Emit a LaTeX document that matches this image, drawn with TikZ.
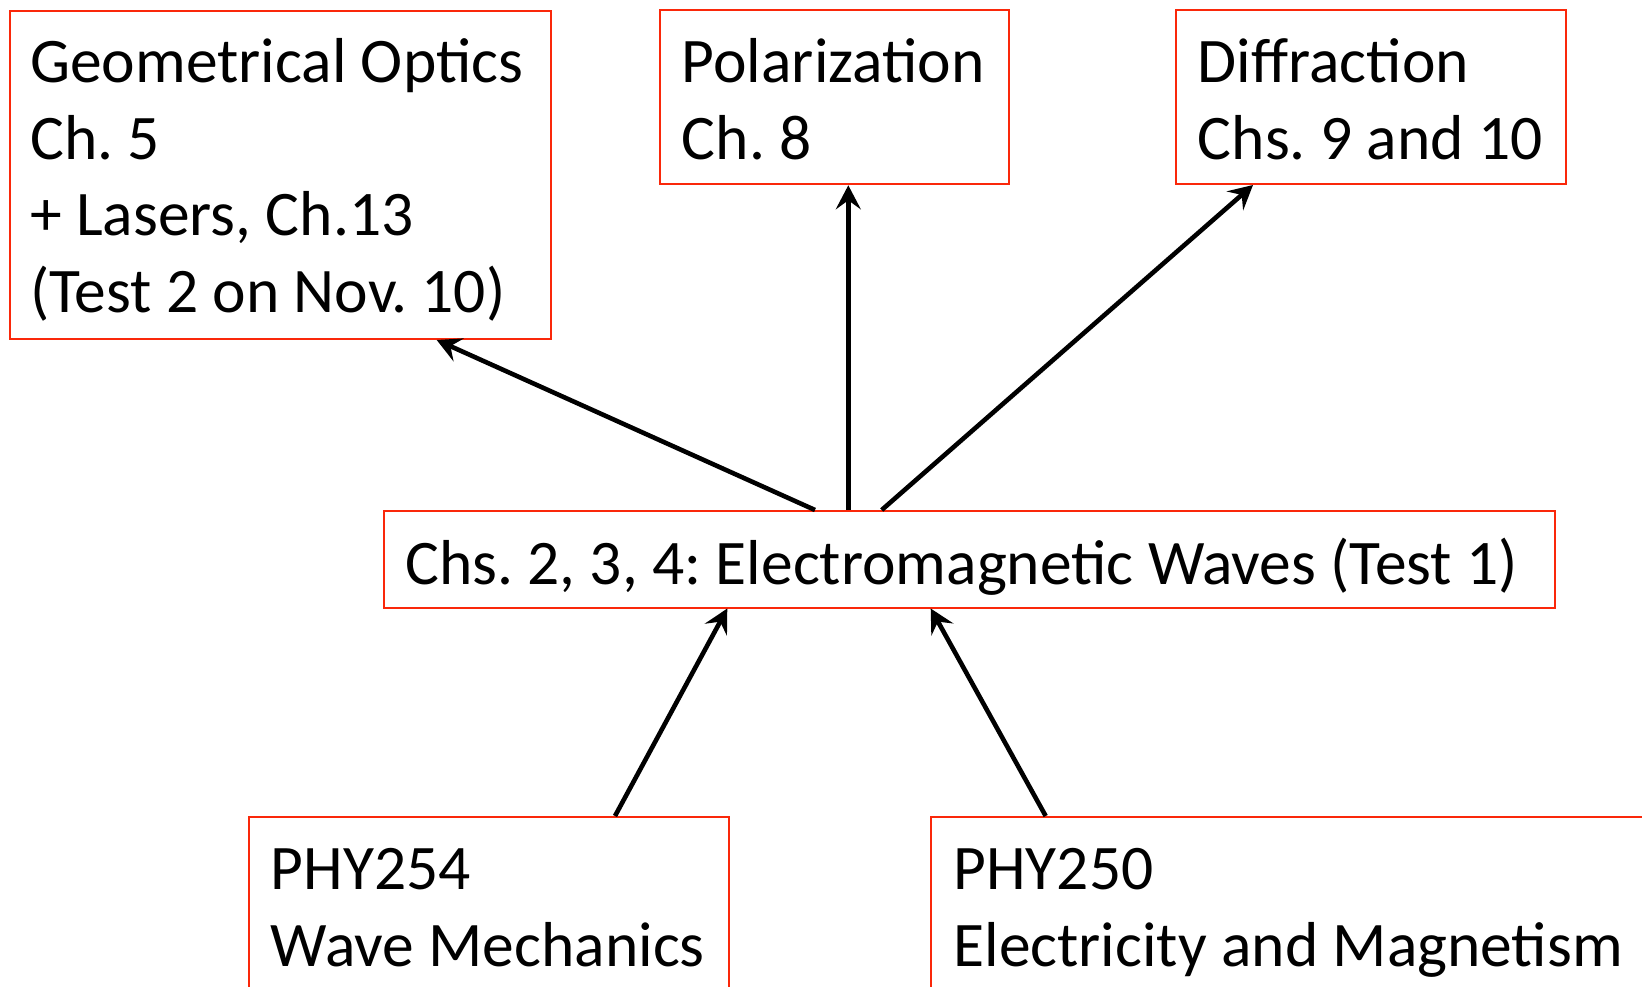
\documentclass[tikz,border=0pt]{standalone}
\usepackage{fontspec}
\setmainfont{Carlito}
\usetikzlibrary{arrows.meta}
\definecolor{boxred}{RGB}{250,40,10}
\frenchspacing
\begin{document}
\begin{tikzpicture}[x=1pt,y=-1pt,
  box/.style={draw=boxred,line width=2pt,rectangle,inner sep=0pt,anchor=north west},
  txt/.style={anchor=base west,inner sep=0pt,font=\fontsize{63.5}{76.7}\selectfont},
  conn/.style={line width=4.6pt,-{Stealth[length=24pt,width=25pt,inset=9pt]}}]
\clip (0,0) rectangle (1642,987);
\fill[white] (0,0) rectangle (1642,987);
% boxes
\node[box,minimum width=541.3pt,minimum height=328pt] (geo) at (8.7,10) {};
\node[box,minimum width=348.4pt,minimum height=174.3pt] (pol) at (659.3,9) {};
\node[box,minimum width=390pt,minimum height=174pt] (dif) at (1175,9) {};
\node[box,minimum width=1171.3pt,minimum height=96.5pt] (mid) at (382.7,510) {};
\node[box,minimum width=480.6pt,minimum height=200pt] (wave) at (247.7,816) {};
\node[box,minimum width=800pt,minimum height=200pt] (em) at (930,816) {};
% texts
\node[txt] (geo1) at (30,82.7) {Geometrical Optics};
\node[txt] (geo2) at (30,159.3) {Ch. 5};
\node[txt] (geo3) at (30,236) {+ Lasers, Ch.13};
\node[txt] (geo4) at (30,312.7) {(Test 2 on Nov. 10)};
\node[txt] (pol1) at (681.7,82.7) {Polarization};
\node[txt] (pol2) at (681.7,159.3) {Ch. 8};
\node[txt] (dif1) at (1197.7,82.7) {Diffraction};
\node[txt] (dif2) at (1197.7,159.3) {Chs. 9 and 10};
\node[txt] (mid1) at (405,584.3) {Chs. 2, 3, 4: Electromagnetic Waves (Test 1)};
\node[txt] (wave1) at (270.7,889.3) {PHY254};
\node[txt] (wave2) at (270.7,966.7) {Wave Mechanics};
\node[txt] (em1) at (953.3,889.3) {PHY250};
\node[txt] (em2) at (953.3,966.7) {Electricity and Magnetism};
% connectors
\draw[conn] ([xshift=432.3pt]mid.north west) -- ([xshift=428pt]geo.south west);
\draw[conn] ([xshift=465.6pt]mid.north west) -- ([xshift=189pt]pol.south west);
\draw[conn] ([xshift=499pt]mid.north west) -- ([xshift=78pt]dif.south west);
\draw[conn] ([xshift=367.3pt]wave.north west) -- ([xshift=344.6pt]mid.south west);
\draw[conn] ([xshift=115.7pt]em.north west) -- ([xshift=548pt]mid.south west);
\end{tikzpicture}
\end{document}
